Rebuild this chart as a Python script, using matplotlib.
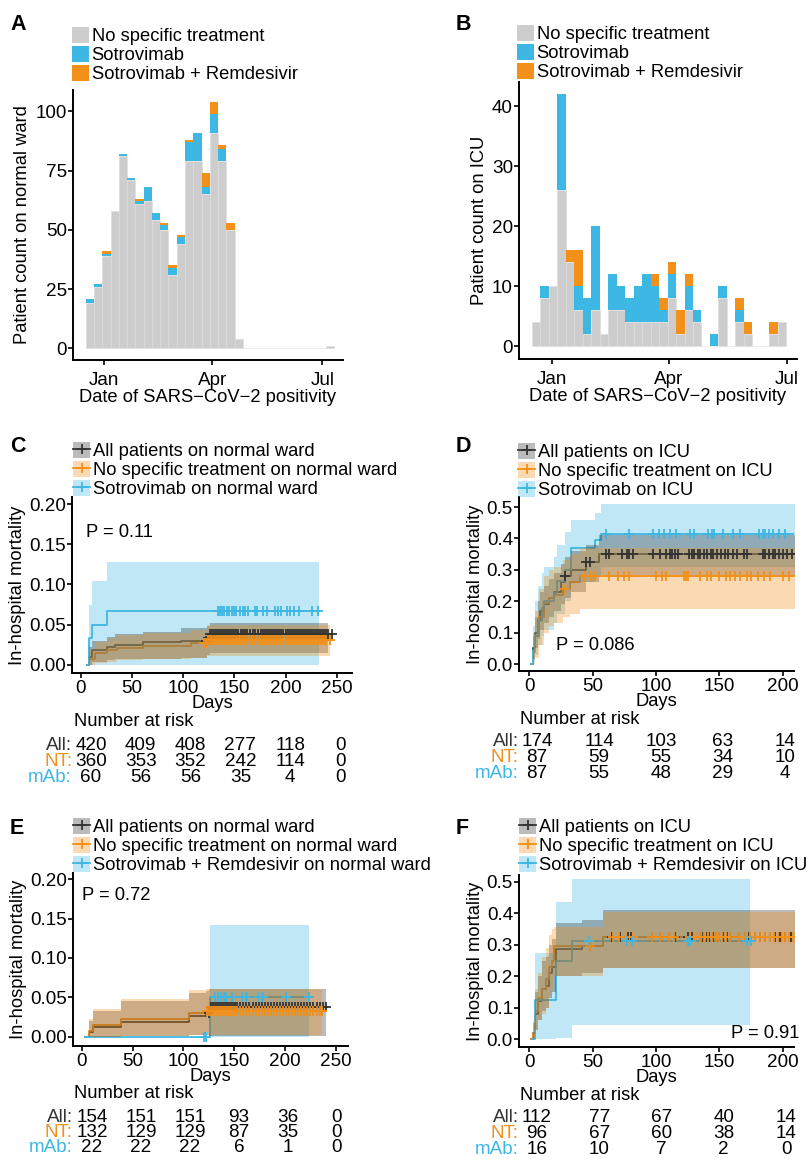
import numpy as np
import matplotlib
matplotlib.use("Agg")
import matplotlib.pyplot as plt
from matplotlib.patches import Patch
from matplotlib.lines import Line2D
from matplotlib.legend_handler import HandlerTuple
import matplotlib.transforms as mtransforms

plt.rcParams['font.family'] = ['Liberation Sans', 'DejaVu Sans']

# ------------------------------------------------------------------ data
treatment_labels = ["No specific treatment", "Sotrovimab", "Sotrovimab + Remdesivir"]
month_ticks = [0, 90, 181]
month_labels = ["Jan", "Apr", "Jul"]

ward_none = [19, 26, 39, 58, 81, 71, 61, 62, 54, 50, 31, 44, 79, 79, 65, 91, 79, 50, 4, 0, 0, 0, 0, 0, 0, 0, 0, 0, 0, 1]
ward_sotro = [2, 1, 1, 0, 1, 1, 1, 6, 3, 2, 3, 3, 8, 12, 3, 8, 5, 0, 0, 0, 0, 0, 0, 0, 0, 0, 0, 0, 0, 0]
ward_combo = [0, 0, 1, 0, 0, 0, 1, 0, 0, 1, 1, 1, 1, 0, 6, 5, 2, 3, 0, 0, 0, 0, 0, 0, 0, 0, 0, 0, 0, 0]
ward_bin_start, ward_bin_width = -14.9, 6.85

icu_none = [4, 8, 10, 26, 14, 6, 2, 6, 2, 6, 6, 4, 4, 4, 4, 4, 8, 2, 6, 4, 0, 0, 8, 0, 4, 2, 0, 0, 2, 4]
icu_sotro = [0, 2, 0, 16, 0, 4, 6, 14, 0, 6, 4, 4, 6, 8, 6, 2, 4, 0, 4, 2, 0, 2, 2, 0, 2, 0, 0, 0, 0, 0]
icu_combo = [0, 0, 0, 0, 2, 6, 0, 0, 0, 0, 0, 0, 0, 0, 2, 2, 2, 4, 2, 0, 0, 0, 0, 0, 2, 2, 0, 0, 2, 0]
icu_bin_start, icu_bin_width = -15.8, 6.55

# ---- Panel C: normal ward, sotrovimab
c_labels = ["All patients on normal ward", "No specific treatment on normal ward", "Sotrovimab on normal ward"]
c_all_t = [5.5, 8, 11, 25, 33, 61, 98, 123, 126]
c_all_v = [0, 0.010, 0.019, 0.022, 0.025, 0.028, 0.030, 0.034, 0.038]
c_all_lo = [0, 0.0, 0.004, 0.006, 0.007, 0.008, 0.009, 0.012, 0.015]
c_all_hi = [0, 0.022, 0.030, 0.035, 0.039, 0.041, 0.0455, 0.049, 0.052]
c_all_end = 242
c_all_cens = [122, 124, 126, 128, 130, 132, 134, 136, 138, 140, 142, 144, 146, 148, 150, 152, 154, 156, 158, 160,
              162, 165, 168, 170, 173, 176, 178, 180, 182, 184, 186, 188, 190, 192, 194, 196, 198, 200, 202, 204,
              206, 208, 210, 212, 214, 216, 218, 220, 222, 224, 226, 228, 230, 232, 234, 236, 238, 240, 242, 245]
c_nt_t = [5.5, 8, 14, 25, 35, 61, 108, 123]
c_nt_v = [0, 0.008, 0.0145, 0.0186, 0.021, 0.0236, 0.027, 0.031]
c_nt_lo = [0, 0, 0.002, 0.004, 0.006, 0.007, 0.009, 0.011]
c_nt_hi = [0, 0.020, 0.028, 0.034, 0.037, 0.040, 0.044, 0.050]
c_nt_end = 243
c_nt_cens = [120, 122, 124, 126, 128, 130, 132, 134, 136, 138, 140, 142, 144, 146, 148, 150, 152, 154, 156, 158,
             160, 162, 165, 168, 170, 173, 176, 178, 180, 182, 184, 186, 188, 190, 192, 194, 196, 198, 200, 202,
             204, 206, 208, 210, 212, 214, 216, 218, 220, 222, 224, 226, 228, 230, 232, 234, 236, 238, 240, 243]
c_mab_t = [5.5, 8, 10.5, 25]
c_mab_v = [0, 0.033, 0.050, 0.067]
c_mab_lo = [0, 0, 0, 0]
c_mab_hi = [0, 0.075, 0.104, 0.1275]
c_mab_end = 233
c_mab_cens = [134, 136, 138, 140, 143, 145, 148, 150, 152, 155, 158, 160, 163, 170, 172, 178, 182, 190, 193, 196,
              201, 204, 208, 213, 226, 232]
c_pvalue = "P = 0.11"
c_risk_times = [0, 50, 100, 150, 200, 250]
c_risk_all = [420, 409, 408, 277, 118, 0]
c_risk_nt = [360, 353, 352, 242, 114, 0]
c_risk_mab = [60, 56, 56, 35, 4, 0]

# ---- Panel D: ICU, sotrovimab
d_labels = ["All patients on ICU", "No specific treatment on ICU", "Sotrovimab on ICU"]
d_all_t = [1.8, 3, 5, 7, 9, 12, 16, 20, 25, 28, 33, 45, 55]
d_all_v = [0, 0.05, 0.10, 0.14, 0.17, 0.19, 0.21, 0.23, 0.26, 0.28, 0.30, 0.325, 0.351]
d_all_lo = [0, 0.015, 0.05, 0.08, 0.11, 0.13, 0.15, 0.17, 0.19, 0.21, 0.23, 0.26, 0.285]
d_all_hi = [0, 0.09, 0.15, 0.20, 0.23, 0.25, 0.27, 0.29, 0.32, 0.34, 0.36, 0.38, 0.41]
d_all_end = 217
d_all_cens = [28, 45, 48, 61, 63, 73, 77, 79, 82, 98, 103, 108, 111, 113, 115, 117, 126, 128, 130, 133, 135, 138, 140,
              143, 145, 148, 151, 154, 157, 161, 164, 169, 172, 184, 186, 189, 192, 194, 197, 200, 203, 207, 211, 215, 218]
d_nt_t = [1.8, 3, 5, 8, 12, 16, 20, 27, 32, 40]
d_nt_v = [0, 0.04, 0.09, 0.15, 0.195, 0.21, 0.22, 0.24, 0.26, 0.279]
d_nt_lo = [0, 0.0, 0.02, 0.06, 0.10, 0.12, 0.13, 0.15, 0.16, 0.175]
d_nt_hi = [0, 0.10, 0.17, 0.24, 0.28, 0.30, 0.31, 0.33, 0.35, 0.37]
d_nt_end = 217
d_nt_cens = [28, 44, 48, 52, 63, 70, 75, 79, 100, 105, 108, 122, 124, 125, 135, 140, 143, 150, 155, 158, 162, 166,
             172, 175, 180, 185, 190, 200, 205, 210, 215]
d_mab_t = [1.8, 3, 5, 7, 10, 12, 20, 22, 28, 33, 52, 57]
d_mab_v = [0, 0.046, 0.091, 0.137, 0.18, 0.20, 0.226, 0.263, 0.30, 0.37, 0.394, 0.415]
d_mab_lo = [0, 0.005, 0.03, 0.06, 0.09, 0.11, 0.13, 0.16, 0.20, 0.26, 0.28, 0.31]
d_mab_hi = [0, 0.12, 0.20, 0.25, 0.29, 0.31, 0.34, 0.38, 0.42, 0.46, 0.48, 0.51]
d_mab_end = 214
d_mab_cens = [61, 79, 98, 102, 106, 111, 116, 127, 130, 141, 144, 146, 153, 161, 166, 181, 184, 186, 189, 192, 197, 202]
d_pvalue = "P = 0.086"
d_risk_times = [0, 50, 100, 150, 200]
d_risk_all = [174, 114, 103, 63, 14]
d_risk_nt = [87, 59, 55, 34, 10]
d_risk_mab = [87, 55, 48, 29, 4]

# ---- Panel E: normal ward, sotrovimab + remdesivir
e_labels = ["All patients on normal ward", "No specific treatment on normal ward",
            "Sotrovimab + Remdesivir on normal ward"]
e_all_t = [3.3, 6.6, 10.5, 38.5, 105, 122, 125.5]
e_all_v = [0, 0.0065, 0.013, 0.0195, 0.026, 0.030, 0.0375]
e_all_lo = [0, 0, 0.0, 0.001, 0.002, 0.003, 0.001]
e_all_hi = [0, 0.020, 0.033, 0.045, 0.056, 0.058, 0.061]
e_all_end = 240
e_all_cens = [125, 127, 129, 131, 133, 135, 137, 139, 141, 143, 145, 147, 149, 151, 153, 156, 159, 162, 165, 168,
              171, 174, 177, 180, 183, 186, 189, 192, 195, 198, 201, 204, 207, 210, 213, 216, 219, 222, 225, 228,
              231, 234, 237, 240]
e_nt_t = [3.3, 6.6, 10.5, 38.5, 105, 122]
e_nt_v = [0, 0.0076, 0.015, 0.023, 0.0303, 0.033]
e_nt_lo = [0, 0, 0.0, 0.001, 0.002, 0.002]
e_nt_hi = [0, 0.023, 0.035, 0.048, 0.060, 0.061]
e_nt_end = 236
e_nt_cens = [123, 125, 127, 129, 131, 133, 135, 137, 139, 141, 143, 145, 147, 149, 151, 153, 156, 159, 162, 165,
             168, 171, 174, 177, 180, 183, 186, 189, 192, 195, 198, 201, 204, 207, 210, 213, 216, 219, 222, 225,
             228, 231, 234, 236]
e_mab_t = [3.3, 126]
e_mab_v = [0, 0.05]
e_mab_lo = [0, 0]
e_mab_hi = [0, 0.142]
e_mab_end = 224
e_mab_cens = [120, 122, 130.6, 134, 137, 140, 142, 148, 158, 162, 163, 173, 177, 178, 201, 224]
e_pvalue = "P = 0.72"
e_risk_times = [0, 50, 100, 150, 200, 250]
e_risk_all = [154, 151, 151, 93, 36, 0]
e_risk_nt = [132, 129, 129, 87, 35, 0]
e_risk_mab = [22, 22, 22, 6, 1, 0]

# ---- Panel F: ICU, sotrovimab + remdesivir
f_labels = ["All patients on ICU", "No specific treatment on ICU", "Sotrovimab + Remdesivir on ICU"]
f_all_t = [1.8, 3, 5, 7, 10, 13, 16, 18, 21, 42, 58]
f_all_v = [0, 0.018, 0.08, 0.12, 0.16, 0.17, 0.21, 0.23, 0.288, 0.297, 0.325]
f_all_lo = [0, 0, 0.03, 0.06, 0.09, 0.10, 0.13, 0.15, 0.20, 0.21, 0.225]
f_all_hi = [0, 0.05, 0.15, 0.20, 0.25, 0.26, 0.30, 0.32, 0.37, 0.38, 0.41]
f_all_end = 220
f_all_cens = [48, 65, 72, 78, 80, 97, 103, 110, 115, 125, 128, 135, 137, 140, 142, 145, 147, 150, 153, 156, 158,
              165, 170, 173, 178, 182, 186, 190, 194, 198, 202, 206, 210, 214, 218]
f_nt_t = [1.8, 3, 5, 7, 10, 13, 16, 18, 20, 58]
f_nt_v = [0, 0.02, 0.09, 0.13, 0.16, 0.19, 0.23, 0.25, 0.297, 0.325]
f_nt_lo = [0, 0, 0.03, 0.06, 0.08, 0.10, 0.14, 0.16, 0.20, 0.225]
f_nt_hi = [0, 0.06, 0.16, 0.21, 0.26, 0.29, 0.33, 0.35, 0.357, 0.405]
f_nt_end = 222
f_nt_cens = [48, 66, 71, 76, 82, 97, 103, 110, 114, 127, 131, 135, 138, 141, 144, 147, 150, 152, 155, 158, 165,
             170, 174, 178, 182, 186, 190, 193, 196, 199, 202, 205, 208, 211, 214, 217, 220, 222]
f_mab_t = [2, 4.5, 21.5, 34]
f_mab_v = [0, 0.125, 0.25, 0.3125]
f_mab_lo = [0, 0, 0.004, 0.0445]
f_mab_hi = [0, 0.274, 0.435, 0.508]
f_mab_end = 174
f_mab_cens = [47, 77, 81, 125, 127, 172, 175]
f_pvalue = "P = 0.91"
f_risk_times = [0, 50, 100, 150, 200]
f_risk_all = [112, 77, 67, 40, 14]
f_risk_nt = [96, 67, 60, 38, 14]
f_risk_mab = [16, 10, 7, 2, 0]

risk_row_labels = ["All:", "NT:", "mAb:"]

# ------------------------------------------------------------------ style
W, H = 807, 1159
FS = 13.2
TFS = 13.6
GREY = '#CDCDCD'
BLUE = '#3DB7E4'
ORANGE = '#F39019'
DARK = '#333333'
BAND_ALPHA = 0.33

fig = plt.figure(figsize=(W / 100, H / 100), dpi=100)


def px_axes(l, t, r, b):
    return fig.add_axes([l / W, 1 - b / H, (r - l) / W, (b - t) / H])


def style(ax, xpad=2):
    for s in ['top', 'right']:
        ax.spines[s].set_visible(False)
    for s in ['left', 'bottom']:
        ax.spines[s].set_linewidth(1.4)
    ax.tick_params(length=3.8, width=1.2, labelsize=TFS, colors='black')
    ax.tick_params(axis='y', pad=0.6)
    ax.tick_params(axis='x', pad=xpad)


def legend_at(ax, handles, labels, x, y, **kw):
    return ax.legend(handles, labels, loc='upper left', bbox_to_anchor=(x / W, 1 - y / H),
                     bbox_transform=fig.transFigure, frameon=False, fontsize=FS, borderpad=0,
                     borderaxespad=0, handlelength=0.95, handleheight=0.95, handletextpad=0.12,
                     labelspacing=0.05, **kw)


def panel_letter(letter, x, y):
    fig.text(x / W, 1 - y / H, letter, fontsize=15.5, fontweight='bold', va='top', ha='left')


# ------------------------------------------------------------------ histograms
def histogram(ax, none, sotro, combo, start, width, ylabel, yticks, ylim, xlim):
    n = len(none)
    left = start + width * np.arange(n)
    none = np.array(none)
    sotro = np.array(sotro)
    combo = np.array(combo)
    ax.bar(left, none, width=width, align='edge', color=GREY, edgecolor='#DDDDDD', linewidth=0.4)
    ax.bar(left, sotro, bottom=none, width=width, align='edge', color=BLUE, linewidth=0)
    ax.bar(left, combo, bottom=none + sotro, width=width, align='edge', color=ORANGE, linewidth=0)
    ax.set_xlim(*xlim)
    ax.set_ylim(*ylim)
    ax.set_xticks(month_ticks)
    ax.set_xticklabels(month_labels)
    ax.set_yticks(yticks)
    ax.set_ylabel(ylabel, fontsize=FS, labelpad=3)
    ax.set_xlabel("Date of SARS\u2212CoV\u22122 positivity", fontsize=FS, labelpad=-0.5)
    style(ax, xpad=5.0)


hist_handles = [Patch(facecolor=GREY), Patch(facecolor=BLUE), Patch(facecolor=ORANGE)]

axA = px_axes(73, 90, 343, 360)
histogram(axA, ward_none, ward_sotro, ward_combo, ward_bin_start, ward_bin_width,
          "Patient count on normal ward", [0, 25, 50, 75, 100], (-4.9, 109), (-25.4, 198))
legend_at(axA, hist_handles, treatment_labels, 72, 27)
panel_letter("A", 10, 14)

axB = px_axes(519, 82, 797, 359)
histogram(axB, icu_none, icu_sotro, icu_combo, icu_bin_start, icu_bin_width,
          "Patient count on ICU", [0, 10, 20, 30, 40], (-2.1, 44), (-25.8, 189))
legend_at(axB, hist_handles, treatment_labels, 517, 25)
panel_letter("B", 456, 14)


# ------------------------------------------------------------------ KM panels
def km_curve(ax, t, v, lo, hi, end, cens, color, band_z):
    tt = list(t) + [end]
    vv = list(v) + [v[-1]]
    ll = list(lo) + [lo[-1]]
    hh = list(hi) + [hi[-1]]
    ax.step(tt, vv, where='post', color=color, lw=1.3, zorder=2)
    ax.fill_between(tt, ll, hh, step='post', color=color, alpha=BAND_ALPHA, lw=0, zorder=band_z)
    idx = np.searchsorted(np.array(t), np.array(cens), side='right') - 1
    cy = np.array(v)[np.clip(idx, 0, len(v) - 1)]
    ax.plot(cens, cy, ls='none', marker='+', ms=7, mew=1.3, color=color, zorder=6)


def km_panel(box, curves, labels, xticks, xlim, yticks, ylim, yfmt, pval, pval_xy, pval_ha,
             legend_xy, letter_xy, letter, risk, risk_map, risk_rows, risk_title_xy, label_right):
    ax = px_axes(*box)
    colors = [DARK, ORANGE, BLUE]
    band_z = [3, 4, 2]
    for (t, v, lo, hi, end, cens), c, z in zip(curves, colors, band_z):
        km_curve(ax, t, v, lo, hi, end, cens, c, z)
    ax.set_xlim(*xlim)
    ax.set_ylim(*ylim)
    ax.set_xticks(xticks)
    ax.set_yticks(yticks)
    ax.set_yticklabels([yfmt.format(y) for y in yticks])
    ax.set_xlabel("Days", fontsize=FS, labelpad=-1.5)
    ax.set_ylabel("In-hospital mortality", fontsize=FS, labelpad=2)
    style(ax, xpad=1.5)
    fig.text(pval_xy[0] / W, 1 - pval_xy[1] / H, pval, fontsize=FS, ha=pval_ha, va='center')
    handles = [(Patch(facecolor=c, alpha=BAND_ALPHA, lw=0),
                Line2D([], [], color=c, lw=1.3, marker='+', ms=7, mew=1.3)) for c in colors]
    legend_at(ax, handles, labels, *legend_xy, handler_map={tuple: HandlerTuple(ndivide=1)})
    panel_letter(letter, *letter_xy)

    # risk table
    x0, x1, tmax = risk_map
    r0, r1, r2 = risk_rows
    gap = r1 - r0
    tab = px_axes(x0, r0 - gap / 2, x1, r2 + gap / 2)
    tab.set_xlim(0, tmax)
    tab.set_ylim(2.5, -0.5)
    tab.axis('off')
    times = risk[0]
    tr = mtransforms.blended_transform_factory(fig.transFigure, tab.transData)
    for i, (row, col, lab) in enumerate(zip(risk[1:], colors, risk_row_labels)):
        tab.text(label_right / W, i, lab, transform=tr, fontsize=TFS, color=col, ha='right', va='center')
        for tm, n in zip(times, row):
            tab.text(tm, i, str(n), fontsize=TFS, ha='center', va='center', color='black')
    fig.text(risk_title_xy[0] / W, 1 - risk_title_xy[1] / H, "Number at risk", fontsize=FS,
             ha='left', va='center')


km_panel((72, 497, 352, 673),
         [(c_all_t, c_all_v, c_all_lo, c_all_hi, c_all_end, c_all_cens),
          (c_nt_t, c_nt_v, c_nt_lo, c_nt_hi, c_nt_end, c_nt_cens),
          (c_mab_t, c_mab_v, c_mab_lo, c_mab_hi, c_mab_end, c_mab_cens)],
         c_labels, [0, 50, 100, 150, 200, 250], (-8.8, 265), [0, 0.05, 0.10, 0.15, 0.20],
         (-0.01, 0.2087), "{:.2f}", c_pvalue, (86, 532), 'left',
         (73, 442), (10, 436), "C",
         (c_risk_times, c_risk_all, c_risk_nt, c_risk_mab), (91, 340, 250), (745, 761, 777), (74, 722), 72)

km_panel((519, 497, 794, 671),
         [(d_all_t, d_all_v, d_all_lo, d_all_hi, d_all_end, d_all_cens),
          (d_nt_t, d_nt_v, d_nt_lo, d_nt_hi, d_nt_end, d_nt_cens),
          (d_mab_t, d_mab_v, d_mab_lo, d_mab_hi, d_mab_end, d_mab_cens)],
         d_labels, [0, 50, 100, 150, 200], (-7.9, 208.7), [0, 0.1, 0.2, 0.3, 0.4, 0.5],
         (-0.022, 0.532), "{:.1f}", d_pvalue, (556, 646), 'left',
         (518, 443), (456, 436), "D",
         (d_risk_times, d_risk_all, d_risk_nt, d_risk_mab), (537, 785, 200), (742, 758, 773), (520, 719), 519)

km_panel((73, 873, 348, 1046),
         [(e_all_t, e_all_v, e_all_lo, e_all_hi, e_all_end, e_all_cens),
          (e_nt_t, e_nt_v, e_nt_lo, e_nt_hi, e_nt_end, e_nt_cens),
          (e_mab_t, e_mab_v, e_mab_lo, e_mab_hi, e_mab_end, e_mab_cens)],
         e_labels, [0, 50, 100, 150, 200, 250], (-8.8, 262), [0, 0.05, 0.10, 0.15, 0.20],
         (-0.0114, 0.2076), "{:.2f}", e_pvalue, (82, 895), 'left',
         (73, 818), (10, 818), "E",
         (e_risk_times, e_risk_all, e_risk_nt, e_risk_mab), (92, 337, 250), (1117, 1132, 1148), (74, 1093), 73)

km_panel((519, 875, 794, 1047),
         [(f_all_t, f_all_v, f_all_lo, f_all_hi, f_all_end, f_all_cens),
          (f_nt_t, f_nt_v, f_nt_lo, f_nt_hi, f_nt_end, f_nt_cens),
          (f_mab_t, f_mab_v, f_mab_lo, f_mab_hi, f_mab_end, f_mab_cens)],
         f_labels, [0, 50, 100, 150, 200], (-7.9, 208.7), [0, 0.1, 0.2, 0.3, 0.4, 0.5],
         (-0.025, 0.522), "{:.1f}", f_pvalue, (799, 1033), 'right',
         (519, 818), (456, 818), "F",
         (f_risk_times, f_risk_all, f_risk_nt, f_risk_mab), (537, 786, 200), (1118, 1134, 1150), (520, 1095), 519)

fig.savefig("out.png", dpi=100)
